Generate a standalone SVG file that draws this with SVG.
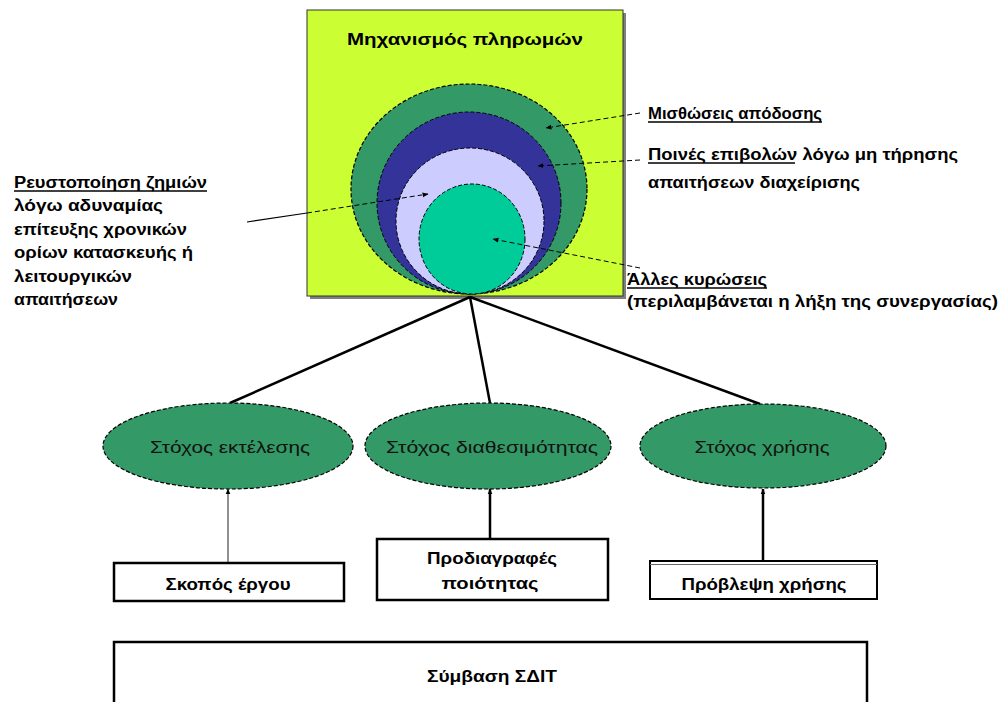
<svg xmlns="http://www.w3.org/2000/svg" width="1003" height="702" viewBox="0 0 1003 702">
<defs>
<style>
.lbl{font-family:"Liberation Sans","DejaVu Sans",sans-serif;font-weight:bold;font-size:16px;fill:#000}
.goal{font-family:"Liberation Sans","DejaVu Sans",sans-serif;font-size:16px;fill:#111;text-anchor:middle}
.dash{stroke:#000;stroke-width:1;stroke-dasharray:5 3}
.ell{fill:#339966;stroke:#000;stroke-width:1.2;stroke-dasharray:4 2}
.box{fill:#fff;stroke:#000;stroke-width:2.5}
.conn{stroke:#000;stroke-width:2.5;fill:none}
.ul{stroke:#000;stroke-width:1.3}
</style>
<marker id="ahs" viewBox="0 0 10 10" refX="9" refY="5" markerWidth="6" markerHeight="6" orient="auto" markerUnits="userSpaceOnUse">
<path d="M0,1 L10,5 L0,9 Z" fill="#000"/>
</marker>
</defs>
<rect width="1003" height="702" fill="#fff"/>

<g id="payment-mechanism">
<rect x="310" y="13" width="316" height="286" fill="#7f7f7f"/>
<rect x="307" y="10" width="316" height="286" fill="#CCFF33" stroke="#333" stroke-width="1"/>
<text class="lbl" x="465" y="45" text-anchor="middle" fill="#222" textLength="236" lengthAdjust="spacingAndGlyphs">Μηχανισμός πληρωμών</text>
<ellipse class="ell" cx="469" cy="189" rx="118" ry="105"/>
<ellipse cx="469" cy="203" rx="92" ry="91" fill="#333399" stroke="#000" stroke-width="1" stroke-dasharray="4 2"/>
<ellipse cx="470" cy="221" rx="74" ry="73" fill="#CCCCFF" stroke="#000" stroke-width="1" stroke-dasharray="4 2"/>
<ellipse cx="472" cy="239" rx="53" ry="55" fill="#00CC99" stroke="#000" stroke-width="1" stroke-dasharray="4 2"/>
</g>

<g id="connectors">
<line class="dash" x1="640" y1="113" x2="546" y2="128" marker-end="url(#ahs)"/>
<line class="dash" x1="640" y1="160" x2="538" y2="166" marker-end="url(#ahs)"/>
<line class="dash" x1="640" y1="268" x2="493" y2="239" marker-end="url(#ahs)"/>
<line x1="247" y1="222" x2="307" y2="213" stroke="#000" stroke-width="1.2"/>
<line class="dash" x1="307" y1="213" x2="428" y2="194" marker-end="url(#ahs)"/>
<line class="conn" x1="470" y1="297" x2="230" y2="403"/>
<line class="conn" x1="470" y1="297" x2="490" y2="403"/>
<line class="conn" x1="470" y1="297" x2="760" y2="404"/>
<line x1="228" y1="562" x2="228" y2="489" stroke="#555" stroke-width="1.3" marker-end="url(#ahs)"/>
<line x1="490" y1="538" x2="490" y2="489" stroke="#000" stroke-width="2.5" marker-end="url(#ahs)"/>
<line x1="763" y1="560" x2="763" y2="489" stroke="#000" stroke-width="2.5" marker-end="url(#ahs)"/>
</g>

<g id="label-performance-deductions">
<text class="lbl" x="648" y="119" textLength="174" lengthAdjust="spacingAndGlyphs">Μισθώσεις απόδοσης</text>
<line class="ul" x1="648" y1="122" x2="822" y2="122"/>
</g>

<g id="label-penalties">
<text class="lbl" x="648" y="160" textLength="310" lengthAdjust="spacingAndGlyphs">Ποινές επιβολών λόγω μη τήρησης</text>
<line class="ul" x1="648" y1="163" x2="795" y2="163"/>
<text class="lbl" x="648" y="188" textLength="212" lengthAdjust="spacingAndGlyphs">απαιτήσεων διαχείρισης</text>
</g>

<g id="label-other-sanctions">
<text class="lbl" x="627" y="285" textLength="140" lengthAdjust="spacingAndGlyphs">Άλλες κυρώσεις</text>
<line class="ul" x1="627" y1="288" x2="767" y2="288"/>
<text class="lbl" x="627" y="307" textLength="371" lengthAdjust="spacingAndGlyphs">(περιλαμβάνεται η λήξη της συνεργασίας)</text>
</g>

<g id="label-liquidated-damages">
<text class="lbl" x="14" y="188" textLength="193" lengthAdjust="spacingAndGlyphs">Ρευστοποίηση ζημιών</text>
<line class="ul" x1="14" y1="191" x2="207" y2="191"/>
<text class="lbl" x="14" y="211" textLength="149" lengthAdjust="spacingAndGlyphs">λόγω αδυναμίας</text>
<text class="lbl" x="14" y="235" textLength="173" lengthAdjust="spacingAndGlyphs">επίτευξης χρονικών</text>
<text class="lbl" x="14" y="258" textLength="179" lengthAdjust="spacingAndGlyphs">ορίων κατασκευής ή</text>
<text class="lbl" x="14" y="282" textLength="118" lengthAdjust="spacingAndGlyphs">λειτουργικών</text>
<text class="lbl" x="14" y="305" textLength="104" lengthAdjust="spacingAndGlyphs">απαιτήσεων</text>
</g>

<g id="goal-execution">
<ellipse class="ell" cx="228" cy="446" rx="125" ry="43"/>
<text class="goal" x="230" y="453" textLength="160" lengthAdjust="spacingAndGlyphs">Στόχος εκτέλεσης</text>
</g>
<g id="goal-availability">
<ellipse class="ell" cx="488" cy="446" rx="123" ry="43"/>
<text class="goal" x="492" y="453" textLength="212" lengthAdjust="spacingAndGlyphs">Στόχος διαθεσιμότητας</text>
</g>
<g id="goal-usage">
<ellipse class="ell" cx="763" cy="446" rx="123" ry="42"/>
<text class="goal" x="762" y="453" textLength="135" lengthAdjust="spacingAndGlyphs">Στόχος χρήσης</text>
</g>

<g id="box-project-purpose">
<rect class="box" x="114" y="563" width="230" height="38"/>
<text class="lbl" x="228" y="590" text-anchor="middle" textLength="125" lengthAdjust="spacingAndGlyphs">Σκοπός έργου</text>
</g>
<g id="box-quality-specs">
<rect class="box" x="377" y="539" width="231" height="61"/>
<text class="lbl" x="492" y="564" text-anchor="middle" textLength="130" lengthAdjust="spacingAndGlyphs">Προδιαγραφές</text>
<text class="lbl" x="490" y="589" text-anchor="middle" textLength="97" lengthAdjust="spacingAndGlyphs">ποιότητας</text>
</g>
<g id="box-usage-forecast">
<rect x="650" y="561" width="227" height="38" fill="#fff" stroke="#000" stroke-width="2"/>
<line x1="650" y1="564.5" x2="877" y2="564.5" stroke="#666" stroke-width="1"/>
<text class="lbl" x="764" y="590" text-anchor="middle" textLength="165" lengthAdjust="spacingAndGlyphs">Πρόβλεψη χρήσης</text>
</g>
<g id="box-ppp-contract">
<rect class="box" x="114" y="642" width="753" height="80"/>
<text class="lbl" x="492" y="682" text-anchor="middle" textLength="130" lengthAdjust="spacingAndGlyphs">Σύμβαση ΣΔΙΤ</text>
</g>
</svg>
